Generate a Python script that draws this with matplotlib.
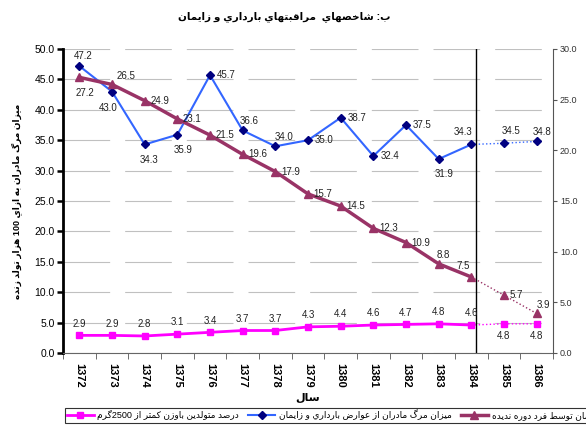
import re
import unicodedata
import numpy as np
import matplotlib
matplotlib.use("Agg")
import matplotlib.pyplot as plt
from matplotlib.lines import Line2D

plt.rcParams['font.family'] = ['Liberation Sans', 'DejaVu Sans']

# داده ها
years = ['1372', '1373', '1374', '1375', '1376', '1377', '1378', '1379',
         '1380', '1381', '1382', '1383', '1384', '1385', '1386']
maternal_mortality = [47.2, 43.0, 34.3, 35.9, 45.7, 36.6, 34.0, 35.0,
                      38.7, 32.4, 37.5, 31.9, 34.3, 34.5, 34.8]
untrained_birth = [27.2, 26.5, 24.9, 23.1, 21.5, 19.6, 17.9, 15.7,
                   14.5, 12.3, 10.9, 8.8, 7.5, 5.7, 3.9]
low_weight = [2.9, 2.9, 2.8, 3.1, 3.4, 3.7, 3.7, 4.3,
              4.4, 4.6, 4.7, 4.8, 4.6, 4.8, 4.8]
n_actual = 13  # سالهاي واقعي، بقيه پيش بيني (نقطه چين)

title = "ب: شاخصهاي  مراقبتهاي بارداري و زايمان"
ylabel = "ميزان مرگ مادران به ازاي 100 هزار تولد زنده"
xlabel = "سال"
leg_labels = ["درصد متولدين باوزن كمتر از 2500گرم",
              "ميزان مرگ مادران از عوارض بارداري و زايمان",
              "درصد زايمان توسط فرد دوره نديده"]


# شکل دادن حروف فارسي (matplotlib خودش RTL ندارد)
def _build_forms():
    table = {}
    for cp in list(range(0xFB50, 0xFE00)) + list(range(0xFE70, 0xFF00)):
        d = unicodedata.decomposition(chr(cp))
        if not d.startswith('<'):
            continue
        parts = d.split()
        if len(parts) != 2:
            continue
        tag = parts[0][1:-1]
        if tag in ('isolated', 'final', 'initial', 'medial'):
            table.setdefault((chr(int(parts[1], 16)), tag), chr(cp))
    return table


FORMS = _build_forms()


def fa(s):
    out = []
    for i, c in enumerate(s):
        p = s[i - 1] if i > 0 else ''
        n = s[i + 1] if i + 1 < len(s) else ''
        jp = ((p, 'initial') in FORMS) and ((c, 'final') in FORMS)
        jn = ((c, 'initial') in FORMS) and ((n, 'final') in FORMS)
        form = 'medial' if (jp and jn) else 'final' if jp else 'initial' if jn else 'isolated'
        out.append(FORMS.get((c, form), FORMS.get((c, 'isolated'), c)))
    tokens = re.findall(r'\d+|\D', ''.join(out))
    return ''.join(tokens[::-1])


fig = plt.figure(figsize=(5.86, 4.25), dpi=100)
ax = fig.add_axes([63 / 586, 1 - 353 / 425, 490 / 586, 304 / 425])
ax2 = ax.twinx()

x = np.arange(len(years))
blue, navy, plum, mag = '#3366FF', '#000080', '#993366', '#FF00FF'

# خطوط واقعي
k = n_actual
ax.plot(x[:k], maternal_mortality[:k], color=blue, lw=1.5, marker='D',
        ms=4, mfc=navy, mec=navy, zorder=4)
ax.plot(x[:k], low_weight[:k], color=mag, lw=2, marker='s', ms=5,
        mfc=mag, mec=mag, zorder=4)
ax2.plot(x[:k], untrained_birth[:k], color=plum, lw=2.5, marker='^',
         ms=6, mfc=plum, mec=plum, zorder=4)
# پيش بيني ها
ax.plot(x[k - 1:], maternal_mortality[k - 1:], color=blue, lw=1, ls=':',
        marker='D', ms=4, mfc=navy, mec=navy, markevery=[1, 2])
ax.plot(x[k - 1:], low_weight[k - 1:], color=mag, lw=1, ls=':',
        marker='s', ms=5, mfc=mag, mec=mag, markevery=[1, 2])
ax2.plot(x[k - 1:], untrained_birth[k - 1:], color=plum, lw=1, ls=':',
         marker='^', ms=6, mfc=plum, mec=plum, markevery=[1, 2])

ax.axvline(12.15, color='black', lw=1, zorder=3)

# برچسب ها (offset به پوينت)
blue_off = [(3, 7, 'center'), (-3, -12, 'center'), (3, -11, 'center'), (4, -11, 'center'),
            (5, 0, 'left'), (5, 7, 'center'), (6, 7, 'center'), (5, 0, 'left'),
            (5, 0, 'left'), (5, 0, 'left'), (5, 0, 'left'), (4, -11, 'center'),
            (-6, 9, 'center'), (5, 9, 'center'), (4, 7, 'center')]
plum_off = [(4, -11, 'center'), (3, 6, 'left'), (4, 0, 'left'), (4, 0, 'left'),
            (4, 0, 'left'), (4, 0, 'left'), (4, 0, 'left'), (4, 0, 'left'),
            (4, 0, 'left'), (4, 0, 'left'), (4, 0, 'left'), (3, 6, 'center'),
            (-6, 8, 'center'), (4, 0, 'left'), (5, 6, 'center')]
for i in range(len(years)):
    dx, dy, ha = blue_off[i]
    ax.annotate(f"{maternal_mortality[i]:.1f}", (x[i], maternal_mortality[i]),
                xytext=(dx, dy), textcoords='offset points', ha=ha, va='center',
                fontsize=7, color='#222222', zorder=6)
    dx, dy, ha = plum_off[i]
    ax2.annotate(f"{untrained_birth[i]:.1f}", (x[i], untrained_birth[i]),
                 xytext=(dx, dy), textcoords='offset points', ha=ha, va='center',
                 fontsize=7, color='#222222', zorder=6)
    dy = 8.5 if i < k else -8.5
    ax.annotate(f"{low_weight[i]:.1f}", (x[i], low_weight[i]),
                xytext=(0, dy), textcoords='offset points', ha='center', va='center',
                fontsize=7, color='#222222', zorder=6)

# محورها
ax.set_xlim(-0.5, len(years) - 0.5)
ax.set_ylim(0, 50)
ax2.set_ylim(0, 30)
ax.set_yticks(np.arange(0, 50.1, 5))
ax.set_yticklabels([f"{v:.1f}" for v in np.arange(0, 50.1, 5)], fontsize=7.5)
ax2.set_yticks(np.arange(0, 30.1, 5))
ax2.set_yticklabels([f"{v:.1f}" for v in np.arange(0, 30.1, 5)], fontsize=6.5,
                    color='#333333')
ax.set_xticks(x)
ax.set_xticklabels(years, rotation=270, fontsize=8, fontweight='bold')
ax.set_xticks(np.arange(-0.5, len(years)), minor=True)
ax.tick_params(axis='x', which='major', length=0, pad=7)
ax.tick_params(axis='x', which='minor', length=4, color='#555555')
ax.tick_params(axis='y', length=4, width=1.8, pad=2)
ax2.tick_params(axis='y', length=3, width=0.8, color='#555555', pad=2)

for s in ['top']:
    ax.spines[s].set_visible(False)
    ax2.spines[s].set_visible(False)
ax.spines['left'].set_linewidth(2)
ax.spines['bottom'].set_color('#666666')
ax2.spines['left'].set_visible(False)
ax2.spines['bottom'].set_visible(False)
ax2.spines['right'].set_color('#555555')
ax2.spines['right'].set_linewidth(0.8)
ax.spines['right'].set_visible(False)

ax.yaxis.grid(True, color='#C0C0C0', lw=0.8, linestyle=(0, (42, 13.5)))
ax.set_axisbelow(True)

ax.set_ylabel(fa(ylabel), fontsize=6.5, fontweight='bold', labelpad=9)
ax.set_xlabel(fa(xlabel), fontsize=8, fontweight='bold', labelpad=4)
fig.text(284 / 586, 1 - 17 / 425, fa(title), ha='center', va='center',
         fontsize=7.5, fontweight='bold')

handles = [Line2D([], [], color=mag, lw=2, marker='s', ms=5),
           Line2D([], [], color=blue, lw=1.5, marker='D', ms=4, mfc=navy, mec=navy),
           Line2D([], [], color=plum, lw=2.5, marker='^', ms=6)]
leg = fig.legend(handles, [fa(t) for t in leg_labels], loc='upper left',
                 bbox_to_anchor=(60 / 586, 1 - 403 / 425), ncol=3, fontsize=6.5,
                 frameon=True, fancybox=False, edgecolor='black', handlelength=3,
                 columnspacing=1.0, borderpad=0.25, handletextpad=0.4)
leg.get_frame().set_linewidth(0.8)

fig.savefig('out.png', dpi=100)
